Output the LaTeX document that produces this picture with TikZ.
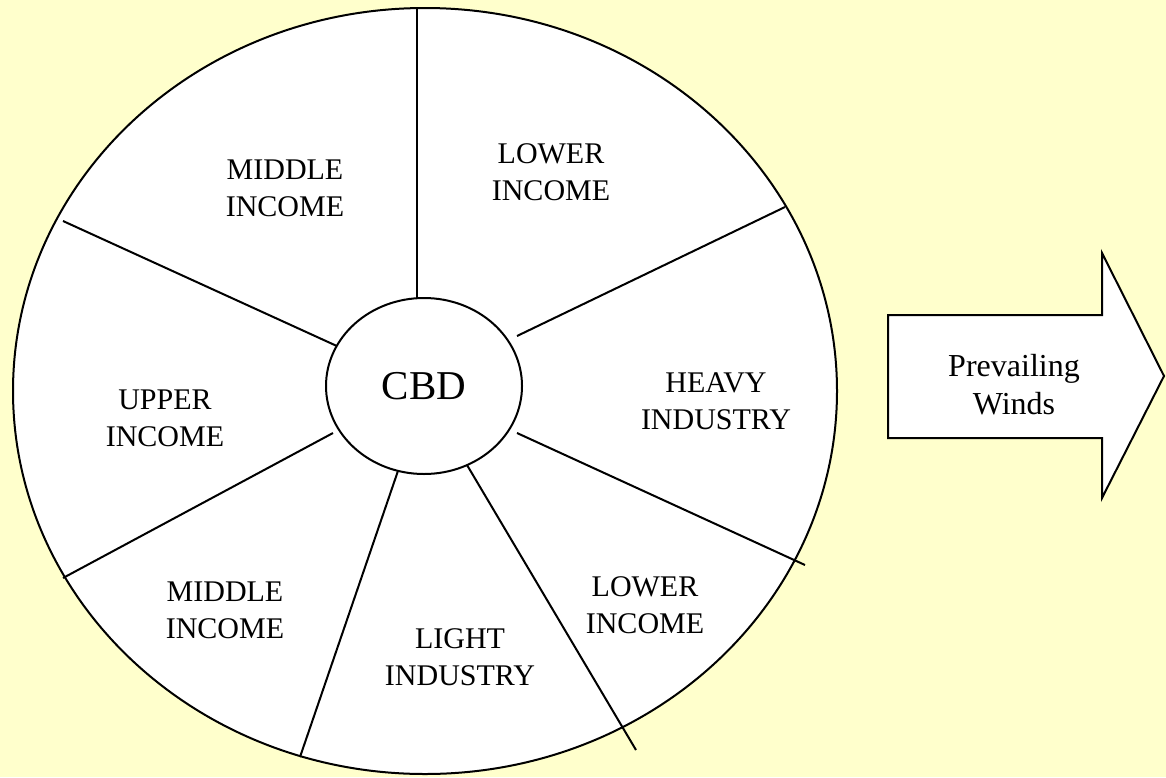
\documentclass[tikz,border=0pt]{standalone}
\usepackage{fontspec}
\setmainfont{Liberation Serif}
\usetikzlibrary{shapes.geometric}
\definecolor{paper}{HTML}{FFFFCC}
\begin{document}
\begin{tikzpicture}[x=1pt, y=-1pt, thick]
                \tikzstyle{zone}=[align=center, font=\fontsize{30}{37}\selectfont]
                \tikzstyle{divider}=[draw, line width=2pt]

                \fill[paper] (0,0) rectangle (1166,777);
                \useasboundingbox (0,0) rectangle (1166,777);

                \draw[line width=2pt, fill=white] (425,391) ellipse [x radius=412pt, y radius=383pt];

                \path[divider] (417,303) -- (417,8);
                \path[divider] (350,352) -- (63,221);
                \path[divider] (517,336) -- (785,207);
                \path[divider] (517,433) -- (805,565);
                \path[divider] (467,465) -- (636,750);
                \path[divider] (400,465) -- (300,757);
                \path[divider] (333,433) -- (63,578);

                \node[ellipse, draw, line width=2pt, fill=white, minimum width=196pt, minimum height=176pt, inner sep=0pt,
                      font=\fontsize{41}{48}\selectfont] (cbd) at (424,386) {CBD};

                \node[zone] (midtop) at (285,188) {MIDDLE\\INCOME};
                \node[zone] (lowtop) at (551,172) {LOWER\\INCOME};
                \node[zone] (heavy) at (716,401) {HEAVY\\INDUSTRY};
                \node[zone] (lowbot) at (645,605) {LOWER\\INCOME};
                \node[zone] (light) at (460,657) {LIGHT\\INDUSTRY};
                \node[zone] (midbot) at (225,610) {MIDDLE\\INCOME};
                \node[zone] (upper) at (165,418) {UPPER\\INCOME};

                \draw[line width=2pt, fill=white] (888,315) -- (1102,315) -- (1102,253) -- (1164,376)
                    -- (1102,498) -- (1102,438) -- (888,438) -- cycle;
                \node[zone, font=\fontsize{32}{38}\selectfont] (winds) at (1014,385) {Prevailing\\Winds};
            \end{tikzpicture}
\end{document}
